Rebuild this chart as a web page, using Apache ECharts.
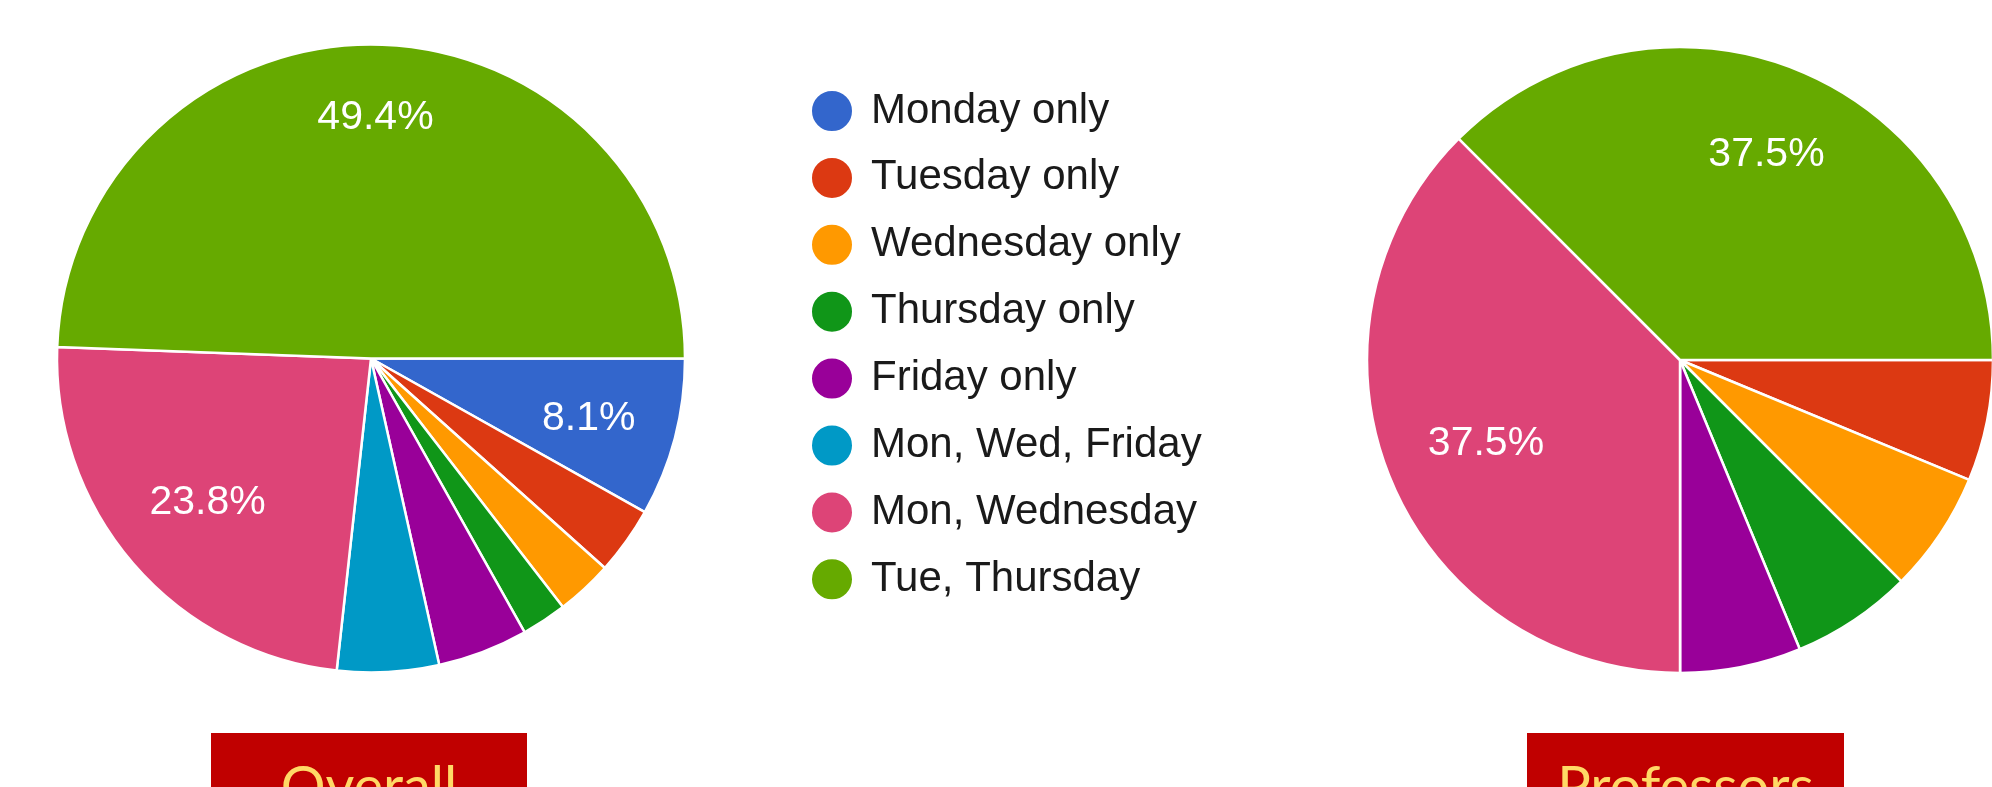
<!DOCTYPE html>
<html>
<head>
<meta charset="utf-8">
<script src="https://cdn.jsdelivr.net/npm/echarts@6/dist/echarts.min.js"></script>
<style>
  html, body { margin: 0; padding: 0; background: #ffffff; }
  #chart { width: 1992px; height: 787px; }
</style>
</head>
<body>
<div id="chart"></div>
<script>
// ---- data ----
const categories = ['Monday only', 'Tuesday only', 'Wednesday only', 'Thursday only', 'Friday only', 'Mon, Wed, Friday', 'Mon, Wednesday', 'Tue, Thursday'];
const overallCounts = [14, 6, 5, 4, 8, 9, 41, 85];
const professorCounts = [0, 1, 1, 1, 1, 0, 6, 6];
const sliceColors = ['#3366CC', '#DC3912', '#FF9900', '#109618', '#990099', '#0099C6', '#DD4477', '#66AA00'];
const panelTitles = ['Overall', 'Professors'];

// ---- layout / style ----
const LABEL_MIN_SHARE = 0.07;
const LABEL_DY = 3;
const panels = [
  {
    counts: overallCounts, center: [371, 358.5], r: 314, box: [211, 733, 316, 60], title: panelTitles[0],
    labelRadius: { 'Monday only': 222, 'Mon, Wednesday': 213, 'Tue, Thursday': 241 }
  },
  {
    counts: professorCounts, center: [1680, 360], r: 313, box: [1527, 733, 317, 60], title: panelTitles[1],
    labelRadius: { 'Mon, Wednesday': 207, 'Tue, Thursday': 223 }
  }
];

function buildData(p) {
  const counts = p.counts;
  const total = counts.reduce((a, b) => a + b, 0);
  let cum = 0;
  return categories.map((name, i) => {
    const v = counts[i];
    const mid = (cum + v / 2) / total * Math.PI * 2;
    cum += v;
    const show = v / total >= LABEL_MIN_SHARE;
    const want = p.labelRadius[name] || p.r * 0.7;
    const d = want - p.r / 2;
    return {
      name: name,
      value: v,
      label: {
        show: show,
        offset: [d * Math.cos(mid), d * Math.sin(mid) + LABEL_DY],
        formatter: (v / total * 100).toFixed(1) + '%'
      }
    };
  });
}

const series = panels.map(p => ({
  type: 'pie',
  center: p.center,
  radius: [0, p.r],
  startAngle: 0,
  clockwise: true,
  avoidLabelOverlap: false,
  silent: true,
  label: {
    show: true,
    position: 'inside',
    color: '#ffffff',
    fontSize: 41,
    fontFamily: 'Liberation Sans, Arial, sans-serif',
    textBorderWidth: 0
  },
  labelLine: { show: false },
  itemStyle: { borderColor: '#ffffff', borderWidth: 2.5 },
  data: buildData(p)
}));

const graphic = [];
panels.forEach(p => {
  graphic.push({
    type: 'rect',
    shape: { x: p.box[0], y: p.box[1], width: p.box[2], height: p.box[3] },
    style: { fill: '#C00000' },
    silent: true
  });
  graphic.push({
    type: 'text',
    x: p.box[0] + p.box[2] / 2,
    y: 788,
    style: {
      text: p.title,
      fill: '#FFD966',
      fontSize: 56,
      fontFamily: 'Lato, "Open Sans", sans-serif',
      align: 'center',
      verticalAlign: 'middle'
    },
    silent: true
  });
});

const chart = echarts.init(document.getElementById('chart'), null, { renderer: 'canvas' });
chart.setOption({
  animation: false,
  backgroundColor: '#ffffff',
  color: sliceColors,
  legend: {
    data: categories,
    orient: 'vertical',
    left: 810,
    top: 89,
    padding: 0,
    itemWidth: 42,
    itemHeight: 42,
    itemGap: 22.9,
    icon: 'circle',
    selectedMode: false,
    textStyle: {
      fontSize: 42,
      lineHeight: 42,
      fontFamily: 'Liberation Sans, Arial, sans-serif',
      color: '#1a1a1a',
      padding: [0, 0, 0, 13]
    }
  },
  series: series,
  graphic: graphic
});
</script>
</body>
</html>
